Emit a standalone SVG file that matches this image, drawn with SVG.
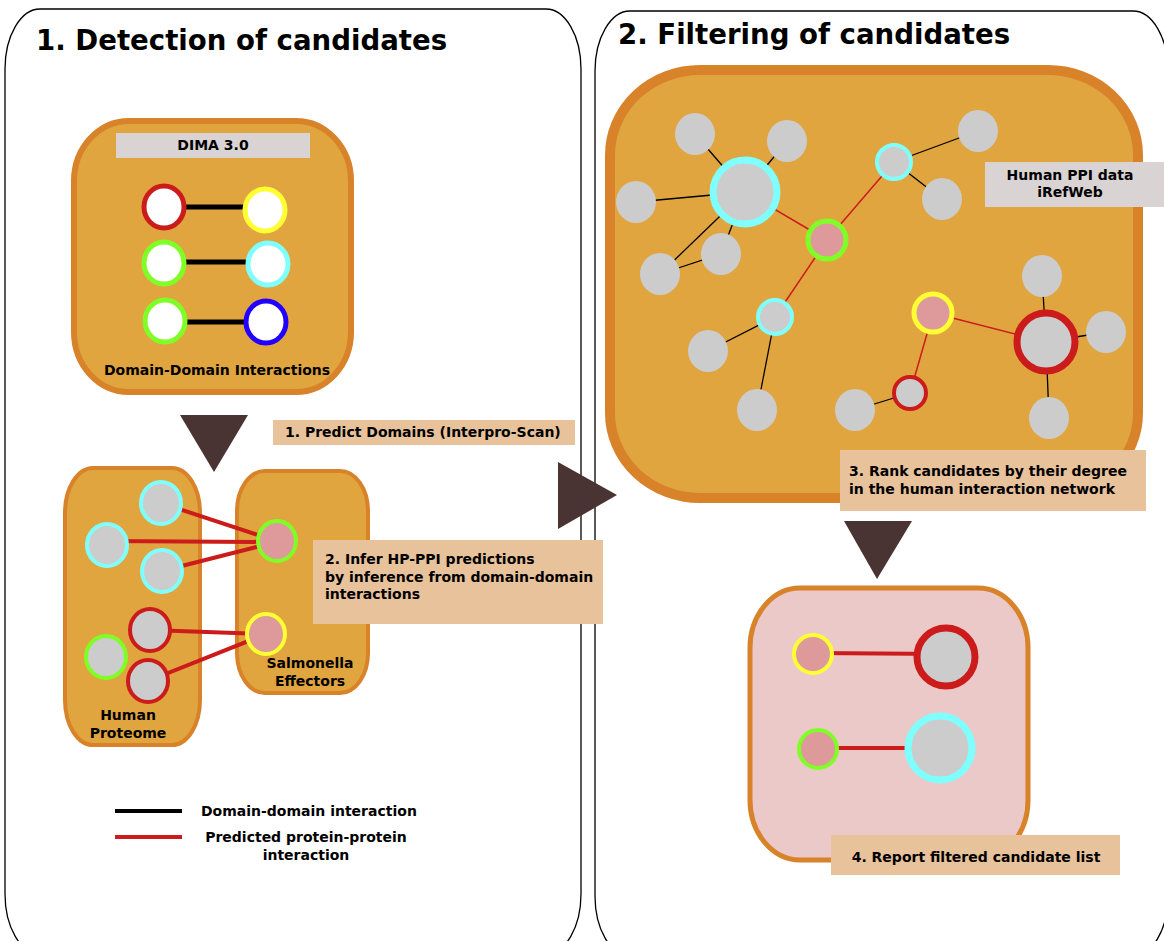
<svg xmlns="http://www.w3.org/2000/svg" width="1164" height="941" viewBox="0 0 1164 941">
<style>
text{font-family:"DejaVu Sans",sans-serif;font-weight:bold;fill:#000}
.title{font-size:27.6px}
.lbl{font-size:14px}
.panel{fill:#fff;stroke:#000;stroke-width:1.3}
.box{fill:#e0a53f;stroke:#d8822a}
.tag{fill:#e8c29b}
.grey{fill:#d9d3d3}
.arrow{fill:#4a3433}
.g{fill:#cccccc}
.w{fill:#fff}
.p{fill:#de9a9a}
.red{stroke:#cc1b1b}
.yel{stroke:#ffff33}
.grn{stroke:#80ff26}
.cya{stroke:#80ffff}
.blu{stroke:#2200ff}
.ddi{stroke:#000;stroke-width:5}
.ppi{stroke:#cc1b1b;stroke-width:4}
.net{stroke:#000;stroke-width:1.3}
.netr{stroke:#cc1b1b;stroke-width:1.5}
</style>
<g id="panel1"><rect class="panel" x="5" y="9" width="576" height="945" rx="35" ry="60"/>
<text class="title" x="36" y="50">1. Detection of candidates</text></g>
<g id="panel2"><rect class="panel" x="595" y="11" width="573" height="945" rx="35" ry="60"/>
<text class="title" x="618" y="44">2. Filtering of candidates</text></g>

<g id="dima">
<rect class="box" x="74" y="121" width="277" height="271" rx="55" ry="60" stroke-width="6"/>
<rect class="grey" x="116" y="133" width="194" height="25"/>
<text class="lbl" x="213" y="150" text-anchor="middle">DIMA 3.0</text>
<text class="lbl" x="217" y="375" text-anchor="middle">Domain-Domain Interactions</text>
</g>
<g id="connectors">
<line class="ddi" x1="164" y1="207" x2="265" y2="207"/>
<line class="ddi" x1="164" y1="262" x2="268" y2="262"/>
<line class="ddi" x1="164" y1="322" x2="266" y2="322"/>
</g>
<g id="dima-nodes" stroke-width="5">
<ellipse class="w red" cx="164" cy="207" rx="20" ry="21"/>
<ellipse class="w yel" cx="265" cy="210" rx="20" ry="21"/>
<ellipse class="w grn" cx="164" cy="263" rx="20" ry="21"/>
<ellipse class="w cya" cx="268" cy="264" rx="20" ry="21"/>
<ellipse class="w grn" cx="165" cy="321" rx="20" ry="21"/>
<ellipse class="w blu" cx="266" cy="322" rx="20" ry="21"/>
</g>

<g id="arrow1"><polygon class="arrow" points="180,415 248,415 214,472"/></g>
<g id="step1"><rect class="tag" x="273" y="420" width="302" height="25"/>
<text class="lbl" x="285" y="437">1. Predict Domains (Interpro-Scan)</text></g>

<g id="human-proteome">
<rect class="box" x="65" y="468" width="135" height="277" rx="28" ry="45" stroke-width="4"/>
<text class="lbl" x="128" y="720" text-anchor="middle">Human</text>
<text class="lbl" x="128" y="738" text-anchor="middle">Proteome</text>
</g>
<g id="salmonella">
<rect class="box" x="237" y="471" width="131" height="222" rx="28" ry="40" stroke-width="4"/>
<text class="lbl" x="310" y="668" text-anchor="middle">Salmonella</text>
<text class="lbl" x="310" y="686" text-anchor="middle">Effectors</text>
</g>
<g id="ppi-connectors">
<line class="ppi" x1="161" y1="503" x2="276" y2="541"/>
<line class="ppi" x1="107" y1="541" x2="276" y2="542" stroke-width="5"/>
<line class="ppi" x1="162" y1="571" x2="276" y2="542"/>
<line class="ppi" x1="150" y1="630" x2="266" y2="634"/>
<line class="ppi" x1="148" y1="681" x2="266" y2="634"/>
</g>
<g id="hp-nodes" stroke-width="4">
<ellipse class="g cya" cx="161" cy="503" rx="20" ry="21"/>
<ellipse class="g cya" cx="107" cy="545" rx="20" ry="21"/>
<ellipse class="g cya" cx="162" cy="571" rx="20" ry="21"/>
<ellipse class="g red" cx="150" cy="630" rx="20" ry="21"/>
<ellipse class="g grn" cx="106" cy="657" rx="20" ry="21"/>
<ellipse class="g red" cx="148" cy="681" rx="20" ry="21"/>
<ellipse class="p grn" cx="277" cy="541" rx="19" ry="20"/>
<ellipse class="p yel" cx="266" cy="634" rx="19" ry="20"/>
</g>

<g id="step2"><rect class="tag" x="313" y="540" width="290" height="84"/>
<text class="lbl" x="325" y="564">2. Infer HP-PPI predictions</text>
<text class="lbl" x="325" y="582">by inference from domain-domain</text>
<text class="lbl" x="325" y="599">interactions</text></g>

<g id="legend">
<line x1="115" y1="811" x2="182" y2="811" stroke="#000" stroke-width="4"/>
<text class="lbl" x="201" y="816">Domain-domain interaction</text>
<line x1="115" y1="837" x2="182" y2="837" stroke="#cc1b1b" stroke-width="4"/>
<text class="lbl" x="306" y="842" text-anchor="middle">Predicted protein-protein</text>
<text class="lbl" x="306" y="860" text-anchor="middle">interaction</text>
</g>

<g id="arrow2"><polygon class="arrow" points="558,462 558,529 617,495"/></g>

<g id="network">
<rect class="box" x="610" y="70" width="528" height="428" rx="90" ry="85" stroke-width="10"/>
<g id="network-connectors">
<line class="net" x1="745" y1="192" x2="695" y2="134"/>
<line class="net" x1="745" y1="192" x2="787" y2="141"/>
<line class="net" x1="745" y1="192" x2="636" y2="202"/>
<line class="net" x1="745" y1="192" x2="660" y2="274"/>
<line class="net" x1="745" y1="192" x2="721" y2="254"/>
<line class="net" x1="721" y1="254" x2="660" y2="274"/>
<line class="net" x1="894" y1="162" x2="978" y2="131"/>
<line class="net" x1="894" y1="162" x2="942" y2="199"/>
<line class="net" x1="775" y1="317" x2="708" y2="351"/>
<line class="net" x1="775" y1="317" x2="757" y2="410"/>
<line class="net" x1="910" y1="393" x2="855" y2="410"/>
<line class="net" x1="1046" y1="342" x2="1042" y2="276"/>
<line class="net" x1="1046" y1="342" x2="1106" y2="332"/>
<line class="net" x1="1046" y1="342" x2="1049" y2="418"/>
<line class="netr" x1="745" y1="192" x2="827" y2="240"/>
<line class="netr" x1="827" y1="240" x2="894" y2="162"/>
<line class="netr" x1="827" y1="240" x2="775" y2="317"/>
<line class="netr" x1="933" y1="313" x2="1046" y2="342"/>
<line class="netr" x1="933" y1="313" x2="910" y2="393"/>
</g>
<g id="network-nodes">
<ellipse class="g" cx="695" cy="134" rx="20" ry="21"/>
<ellipse class="g" cx="787" cy="141" rx="20" ry="21"/>
<ellipse class="g" cx="636" cy="202" rx="20" ry="21"/>
<ellipse class="g" cx="978" cy="131" rx="20" ry="21"/>
<ellipse class="g" cx="942" cy="199" rx="20" ry="21"/>
<ellipse class="g" cx="721" cy="254" rx="20" ry="21"/>
<ellipse class="g" cx="660" cy="274" rx="20" ry="21"/>
<ellipse class="g" cx="708" cy="351" rx="20" ry="21"/>
<ellipse class="g" cx="757" cy="410" rx="20" ry="21"/>
<ellipse class="g" cx="855" cy="410" rx="20" ry="21"/>
<ellipse class="g" cx="1042" cy="276" rx="20" ry="21"/>
<ellipse class="g" cx="1106" cy="332" rx="20" ry="21"/>
<ellipse class="g" cx="1049" cy="418" rx="20" ry="21"/>
<circle class="g cya" cx="745" cy="192" r="32" stroke-width="7"/>
<circle class="p grn" cx="827" cy="240" r="19" stroke-width="5"/>
<circle class="g cya" cx="894" cy="162" r="17" stroke-width="4"/>
<circle class="g cya" cx="775" cy="317" r="17" stroke-width="4"/>
<circle class="p yel" cx="933" cy="313" r="19" stroke-width="5"/>
<circle class="g red" cx="1046" cy="342" r="29" stroke-width="7"/>
<circle class="g red" cx="910" cy="393" r="16" stroke-width="4"/>
</g>
</g>
<g id="ppi-data"><rect class="grey" x="985" y="162" width="179" height="45"/>
<text class="lbl" x="1070" y="180" text-anchor="middle">Human PPI data</text>
<text class="lbl" x="1070" y="197" text-anchor="middle">iRefWeb</text></g>
<g id="step3"><rect class="tag" x="840" y="450" width="306" height="61"/>
<text class="lbl" x="849" y="476">3. Rank candidates by their degree</text>
<text class="lbl" x="849" y="494">in the human interaction network</text></g>

<g id="arrow3"><polygon class="arrow" points="844,521 912,521 877,579"/></g>

<g id="result">
<rect x="750" y="588" width="278" height="272" rx="50" ry="60" fill="#ecc9c9" stroke="#d8822a" stroke-width="5"/>
<line class="ppi" x1="813" y1="653" x2="946" y2="654"/>
<line class="ppi" x1="818" y1="748" x2="940" y2="748"/>
<circle class="p yel" cx="813" cy="654" r="19" stroke-width="4"/>
<circle class="g red" cx="946" cy="657" r="29" stroke-width="7"/>
<circle class="p grn" cx="818" cy="749" r="19" stroke-width="4"/>
<circle class="g cya" cx="940" cy="748" r="32" stroke-width="7"/>
</g>
<g id="step4"><rect class="tag" x="831" y="835" width="289" height="40"/>
<text class="lbl" x="976" y="862" text-anchor="middle">4. Report filtered candidate list</text></g>
</svg>
